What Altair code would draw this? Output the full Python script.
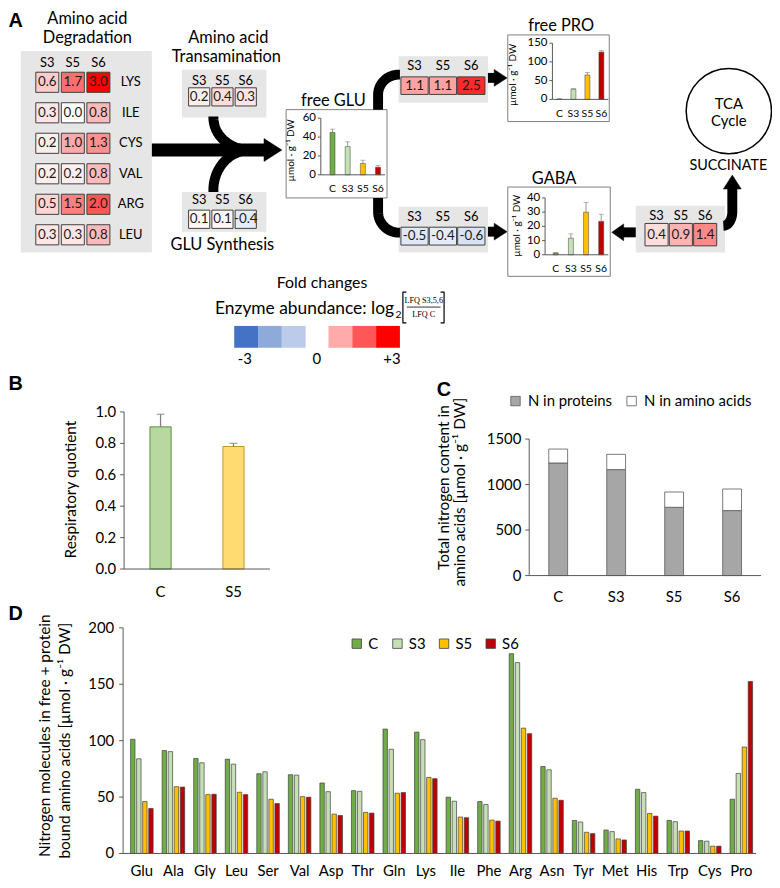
import altair as alt
import numpy as np
import pandas as pd

# ---------------------------------------------------------------- data
FC_COLS = ["S3", "S5", "S6"]
DEG_ROWS = ["LYS", "ILE", "CYS", "VAL", "ARG", "LEU"]
DEG_VALUES = [[0.6, 1.7, 3.0], [0.3, 0.0, 0.8], [0.2, 1.0, 1.3],
              [0.2, 0.2, 0.8], [0.5, 1.5, 2.0], [0.3, 0.3, 0.8]]
TRANSAM_VALUES = [0.2, 0.4, 0.3]
GLUSYN_VALUES = [0.1, 0.1, -0.4]
PRO_FC_VALUES = [1.1, 1.1, 2.5]
GABA_FC_VALUES = [-0.5, -0.4, -0.6]
SUCC_FC_VALUES = [0.4, 0.9, 1.4]
LEGEND_BLUES = ["#4472c4", "#8eaadb", "#bccbea"]
LEGEND_REDS = ["#ffabab", "#ff5757", "#ff0000"]

GROUPS = ["C", "S3", "S5", "S6"]
GROUP_COLORS = ["#70ad47", "#c5e0b4", "#ffc000", "#c00000"]
GLU_MEAN = [45, 30, 12, 8]
GLU_ERR = [3.5, 5, 3.5, 1.8]
GLU_TICKS = [0, 20, 40, 60]
PRO_MEAN = [1, 27, 65, 126]
PRO_ERR = [0.5, 2, 6.5, 4]
PRO_TICKS = [0, 50, 100, 150]
GABA_MEAN = [1.3, 11.7, 30, 23.5]
GABA_ERR = [0.2, 3, 6.7, 5]
GABA_TICKS = [0, 10, 20, 30, 40]

RQ_GROUPS = ["C", "S5"]
RQ_MEAN = [0.905, 0.78]
RQ_ERR = [0.08, 0.02]
RQ_TICKS = [0.0, 0.2, 0.4, 0.6, 0.8, 1.0]
RQ_FILLS = ["#b7d99f", "#ffdb72"]
RQ_EDGES = ["#5f8f3e", "#c49a1c"]

N_PARTS = ["N in proteins", "N in amino acids"]
N_PROTEIN = [1237, 1164, 750, 714]
N_AMINO = [153, 168, 168, 237]
N_TICKS = [0, 500, 1000, 1500]

AA = ["Glu", "Ala", "Gly", "Leu", "Ser", "Val", "Asp", "Thr", "Gln", "Lys",
      "Ile", "Phe", "Arg", "Asn", "Tyr", "Met", "His", "Trp", "Cys", "Pro"]
D_C = [101.2, 91.2, 84.2, 83.6, 70.7, 69.8, 62.5, 55.7, 110.3, 107.6,
       49.9, 46.0, 177.1, 77.1, 29.3, 20.8, 56.9, 29.3, 11.4, 48.1]
D_S3 = [83.9, 90.3, 80.4, 79.2, 72.4, 69.5, 54.8, 55.1, 92.4, 100.9,
        46.3, 43.4, 169.2, 74.2, 27.9, 19.4, 54.0, 28.2, 10.9, 71.0]
D_S5 = [46.0, 59.2, 52.2, 54.3, 48.1, 50.4, 34.9, 36.4, 53.4, 67.4,
        32.3, 29.6, 111.1, 49.0, 18.8, 12.9, 35.5, 19.9, 6.5, 94.4]
D_S6 = [39.9, 58.9, 52.5, 52.2, 44.3, 49.9, 33.7, 35.8, 54.0, 66.3,
        31.7, 28.7, 106.2, 47.2, 17.6, 12.0, 33.1, 19.9, 6.5, 152.5]
D_TICKS = [0, 50, 100, 150, 200]

# ---------------------------------------------------------------- style / layout
FONT = "Lato"
BOLD_FONT = "Liberation Sans"
SERIF = "Liberation Serif"
W, H = 770, 872
OFF = 8
AXC = "#595959"
ERRC = "#808080"
GRAY = "#e6e6e6"
EDGE = "#3f3f3f"
UNIT = "µmol · g⁻¹ DW"


def px(v):
    return v - OFF


py = px

XC = alt.Scale(domain=[OFF, OFF + W], range=[0, W], nice=False, zero=False)
YC = alt.Scale(domain=[OFF, OFF + H], range=[0, H], nice=False, zero=False)


def cx(f):
    return alt.X(f"{f}:Q", scale=XC, axis=None)


def cy(f):
    return alt.Y(f"{f}:Q", scale=YC, axis=None)


def canvas_rects(rows):
    df = pd.DataFrame(rows, columns=["x1", "y1", "x2", "y2", "fill", "stroke", "sw"])
    return alt.Chart(df).mark_rect().encode(
        x=cx("x1"), x2="x2:Q", y=cy("y1"), y2="y2:Q",
        fill=alt.Fill("fill:N", scale=None),
        stroke=alt.Stroke("stroke:N", scale=None),
        strokeWidth=alt.StrokeWidth("sw:Q", scale=None))


def canvas_text(rows, align="center", font=FONT, weight="normal", color="black"):
    df = pd.DataFrame(rows, columns=["t", "x", "y", "size", "angle"])
    return alt.Chart(df).mark_text(align=align, baseline="middle", font=font,
                                   fontWeight=weight, color=color).encode(
        x=cx("x"), y=cy("y"), text="t:N",
        size=alt.Size("size:Q", scale=None), angle=alt.Angle("angle:Q", scale=None))


def canvas_path(points, width, color="black"):
    df = pd.DataFrame({"x": [float(p[0]) for p in points],
                       "y": [float(p[1]) for p in points],
                       "o": list(range(len(points)))})
    return alt.Chart(df).mark_line(color=color, strokeWidth=width, strokeCap="butt",
                                   strokeJoin="round").encode(
        x=cx("x"), y=cy("y"), order=alt.Order("o:Q"))


def arc(xc, yc, rx, ry, t0, t1, n=24):
    ts = np.radians(np.linspace(t0, t1, n))
    return [(xc + rx * np.cos(t), yc + ry * np.sin(t)) for t in ts]


def arrow_head(x, y, length, breadth, angle):
    L = max(length, breadth)
    a, b = length / L, breadth / L
    shape = f"M {-a:.3f} {-b:.3f} L {a:.3f} 0 L {-a:.3f} {b:.3f} Z"
    return alt.Chart(pd.DataFrame({"x": [x], "y": [y]})).mark_point(
        shape=shape, size=L * L, filled=True, fill="black", stroke="black",
        strokeWidth=0.5, opacity=1, angle=angle).encode(x=cx("x"), y=cy("y"))


# ---------------------------------------------------------------- panel A canvas
rects = [
    (21, 48, 153, 251, GRAY, "transparent", 0),
    (183.3, 66.7, 268.3, 115, GRAY, "transparent", 0),
    (183.3, 190, 268.3, 230, GRAY, "transparent", 0),
    (401.7, 53.3, 491.7, 100, GRAY, "transparent", 0),
    (401.7, 205, 491.7, 251, GRAY, "transparent", 0),
    (640.7, 204, 730.7, 251, GRAY, "transparent", 0),
    (288.3, 107, 390, 196, "white", "#7f7f7f", 1),
    (511.7, 31.7, 614, 119, "white", "#7f7f7f", 1),
    (511.7, 185, 615, 275, "white", "#7f7f7f", 1),
]
sw_x = [236, 260, 284]
for i, c in enumerate(LEGEND_BLUES):
    rects.append((sw_x[i], 325, sw_x[i] + 24, 347, c, "transparent", 0))
sw_x = [331, 355, 379]
for i, c in enumerate(LEGEND_REDS):
    rects.append((sw_x[i], 325, sw_x[i] + 24, 347, c, "transparent", 0))

canvas_layers = [canvas_rects(rects)]

# arrows
canvas_layers += [
    canvas_path([(153, 147.7), (268, 147.7)], 13),
    canvas_path([(215, 114)] + arc(252, 115, 37, 32.7, 180, 90), 10),
    canvas_path([(215, 190)] + arc(252, 188, 37, 40.3, 180, 270), 10),
    canvas_path([(381, 107), (381, 92)] + arc(402, 92, 21, 20.3, 180, 270) + [(403, 71.7)], 10),
    canvas_path([(381, 196), (381, 210)] + arc(402, 210, 21, 21, 180, 90) + [(403, 231)], 10),
    canvas_path([(491.7, 75), (500, 75)], 10),
    canvas_path([(491.7, 230), (500, 230)], 10),
    canvas_path([(627, 230.7), (640.7, 230.7)], 10),
    canvas_path(arc(729, 210, 9, 14, 90, 0) + [(738, 186)], 10),
    arrow_head(275, 147.7, 18, 23, 0),
    arrow_head(504.5, 75, 13, 17, 0),
    arrow_head(504.5, 230, 13, 17, 0),
    arrow_head(622.5, 230.7, 12, 17, 180),
    arrow_head(738, 180, 14, 18, 270),
]
# fraction brackets + line
canvas_layers += [
    canvas_path([(409.5, 291), (406, 291), (406, 322), (409.5, 322)], 1.2),
    canvas_path([(444, 291), (447.5, 291), (447.5, 322), (444, 322)], 1.2),
    canvas_path([(410, 306), (444, 306)], 0.8),
]
# TCA circle
canvas_layers.append(
    alt.Chart(pd.DataFrame({"x": [734.5], "y": [108.5]})).mark_point(
        shape="circle", size=86 * 86, filled=False, stroke="black",
        strokeWidth=1.5, opacity=1).encode(x=cx("x"), y=cy("y")))

canvas_layers += [
    canvas_text([("A", 8.5, 18, 20, 0), ("B", 8.5, 384, 20, 0),
                 ("C", 440, 390, 20, 0), ("D", 8.5, 615.5, 20, 0)],
                align="left", font=BOLD_FONT, weight="bold"),
    canvas_text([
        ("Amino acid", 88, 16, 16.5, 0), ("Degradation", 88, 35, 16.5, 0),
        ("Amino acid", 230, 35, 16.5, 0), ("Transamination", 228, 54.3, 16.5, 0),
        ("GLU Synthesis", 224, 243.3, 16.5, 0),
        ("free GLU", 336, 98.3, 16.5, 0),
        ("free PRO", 565.5, 22.7, 16.5, 0),
        ("GABA", 558.3, 177.3, 16.5, 0),
        ("TCA", 734.5, 101, 15, 0), ("Cycle", 734.5, 119, 15, 0),
        ("SUCCINATE", 734, 164.3, 14.5, 0),
        ("Fold changes", 324.5, 281.7, 16, 0),
        ("-3", 246.7, 358.3, 15, 0), ("0", 319.3, 358.3, 15, 0), ("+3", 395, 358.3, 15, 0),
        (UNIT, 293.5, 148, 10, 270), (UNIT, 516.7, 72, 10, 270), (UNIT, 521.5, 224, 10, 270),
        ("Respiratory quotient", 71.7, 490, 15.5, 270),
        ("Total nitrogen content in", 447.7, 488, 15.5, 270),
        ("amino acids [" + UNIT + "]", 463.3, 492.5, 15.5, 270),
        ("Nitrogen molecules in free + protein", 45, 738, 15.5, 270),
        ("bound  amino acids [" + UNIT + "]", 65, 743, 15.5, 270),
    ]),
    canvas_text([("Enzyme abundance: log", 397, 308, 17.5, 0)], align="right"),
    canvas_text([("2", 398.5, 314, 10.5, 0)], align="left"),
    canvas_text([("LFQ S3,5,6", 427, 299.5, 8.3, 0), ("LFQ C", 427, 314, 8.3, 0)],
                font=SERIF),
]
canvas = alt.layer(*canvas_layers)

# ---------------------------------------------------------------- heat blocks
HEAT = alt.Scale(domain=[-3, 0, 3], range=["#4472c4", "#ffffff", "#ff0000"], interpolate="rgb")


def heat_block(rows, values, xr, yr, pin_x, pin_y, header_y, row_label_x=None):
    recs = [{"row": r, "col": c, "v": values[i][j], "lab": f"{values[i][j]:.1f}"}
            for i, r in enumerate(rows) for j, c in enumerate(FC_COLS)]
    df = pd.DataFrame(recs)
    xs = alt.Scale(domain=FC_COLS, range=[px(xr[0]), px(xr[1])], paddingInner=pin_x, paddingOuter=0)
    ys = alt.Scale(domain=rows, range=[py(yr[0]), py(yr[1])], paddingInner=pin_y, paddingOuter=0)
    X = alt.X("col:N", scale=xs, axis=None)
    Y = alt.Y("row:N", scale=ys, axis=None)
    layers = [
        alt.Chart(df).mark_rect(stroke=EDGE, strokeWidth=1).encode(
            x=X, y=Y, color=alt.Color("v:Q", scale=HEAT, legend=None)),
        alt.Chart(df).mark_text(font=FONT, fontSize=13.5, color="#1a1a1a").encode(
            x=X, y=Y, text="lab:N"),
        alt.Chart(pd.DataFrame({"col": FC_COLS})).mark_text(font=FONT, fontSize=13, color="black").encode(
            x=X, y=alt.value(py(header_y)), text="col:N"),
    ]
    if row_label_x is not None:
        layers.append(alt.Chart(pd.DataFrame({"row": rows})).mark_text(
            font=FONT, fontSize=13, color="black").encode(
            x=alt.value(px(row_label_x)), y=Y, text="row:N"))
    return alt.layer(*layers)


heat_groups = [
    heat_block(DEG_ROWS, DEG_VALUES, (36, 110.7), (69.3, 243.3), 0.1, 0.34, 60, 131.7),
    heat_block(["r"], [TRANSAM_VALUES], (190, 258.3), (85, 103.3), 0.09, 0, 78.3),
    heat_block(["r"], [GLUSYN_VALUES], (190, 258.3), (208.3, 226.7), 0.09, 0, 198.3),
    heat_block(["r"], [PRO_FC_VALUES], (404, 488.7), (74, 91.7), 0.04, 0, 62.7),
    heat_block(["r"], [GABA_FC_VALUES], (404, 488.7), (225.5, 243.5), 0.04, 0, 215.5),
    heat_block(["r"], [SUCC_FC_VALUES], (650, 722.3), (221.7, 244.3), 0.05, 0, 214.5),
]


# ---------------------------------------------------------------- axis helpers
def y_axis(ys, ticks, labels, ax_x, ymax, fs, gap, tick_len):
    tdf = pd.DataFrame({"t": ticks, "lab": labels})
    Y = alt.Y("t:Q", scale=ys, axis=None)
    return [
        alt.Chart(pd.DataFrame({"lo": [0], "hi": [ymax]})).mark_rule(color=AXC, strokeWidth=1).encode(
            x=alt.value(px(ax_x)), y=alt.Y("lo:Q", scale=ys, axis=None), y2="hi:Q"),
        alt.Chart(tdf).mark_rule(color=AXC, strokeWidth=1).encode(
            x=alt.value(px(ax_x - tick_len)), x2=alt.value(px(ax_x)), y=Y),
        alt.Chart(tdf).mark_text(align="right", baseline="middle", font=FONT, fontSize=fs,
                                 color="black").encode(
            x=alt.value(px(ax_x - gap)), y=Y, text="lab:N"),
    ]


def x_axis_line(ys, x0, x1):
    return alt.Chart(pd.DataFrame({"lo": [0]})).mark_rule(color=AXC, strokeWidth=1).encode(
        x=alt.value(px(x0)), x2=alt.value(px(x1)), y=alt.Y("lo:Q", scale=ys, axis=None))


def simple_bars(cats, means, errs, fills, edges, band, pin, ybase, ytop, ymax,
                ticks, tick_labels, ax_x, ax_end, lab_y, fs_tick, fs_cat,
                tick_len, gap, cap, err_w, edge_w):
    df = pd.DataFrame({"g": cats, "v": means, "hi": [m + e for m, e in zip(means, errs)],
                       "fill": fills, "edge": edges})
    xs = alt.Scale(domain=cats, range=[px(band[0]), px(band[1])], paddingInner=pin, paddingOuter=pin / 2)
    ys = alt.Scale(domain=[0, ymax], range=[py(ybase), py(ytop)], nice=False, zero=True)
    X = alt.X("g:N", scale=xs, axis=None)
    layers = [
        alt.Chart(df).mark_bar(strokeWidth=edge_w).encode(
            x=X, y=alt.Y("v:Q", scale=ys, axis=None),
            fill=alt.Fill("fill:N", scale=None), stroke=alt.Stroke("edge:N", scale=None)),
        alt.Chart(df).mark_rule(color=ERRC, strokeWidth=err_w).encode(
            x=X, y=alt.Y("v:Q", scale=ys, axis=None), y2="hi:Q"),
        alt.Chart(df).mark_tick(color=ERRC, thickness=err_w, size=cap).encode(
            x=X, y=alt.Y("hi:Q", scale=ys, axis=None)),
        x_axis_line(ys, ax_x, ax_end),
        alt.Chart(df).mark_text(font=FONT, fontSize=fs_cat, color="black", baseline="middle").encode(
            x=X, y=alt.value(py(lab_y)), text="g:N"),
    ]
    layers += y_axis(ys, ticks, tick_labels, ax_x, ymax, fs_tick, gap, tick_len)
    return alt.layer(*layers)


edges4 = [EDGE] * 4
glu = simple_bars(GROUPS, GLU_MEAN, GLU_ERR, GROUP_COLORS, edges4, (327.4, 388.6), 0.67,
                  172.7, 115.7, 60, GLU_TICKS, [str(t) for t in GLU_TICKS],
                  323.3, 388, 187, 11.5, 10.5, 3, 5, 5, 0.8, 0.5)
pro = simple_bars(GROUPS, PRO_MEAN, PRO_ERR, GROUP_COLORS, edges4, (556.7, 613.1), 0.645,
                  96.7, 40, 150, PRO_TICKS, [str(t) for t in PRO_TICKS],
                  556.7, 613, 111, 11.5, 10.5, 3, 5, 5, 0.8, 0.5)
gaba = simple_bars(GROUPS, GABA_MEAN, GABA_ERR, GROUP_COLORS, edges4, (552.4, 613.5), 0.67,
                   253.3, 196, 40, GABA_TICKS, [str(t) for t in GABA_TICKS],
                   549.3, 613, 267.3, 11.5, 10.5, 3, 5, 5, 0.8, 0.5)

# ---------------------------------------------------------------- panel B
panel_b = simple_bars(RQ_GROUPS, RQ_MEAN, RQ_ERR, RQ_FILLS, RQ_EDGES, (125, 272), 0.71,
                      570, 411.7, 1.0, RQ_TICKS, [f"{t:.1f}" for t in RQ_TICKS],
                      125, 272, 593, 15, 15, 4, 8, 8, 1.3, 1)

# ---------------------------------------------------------------- panel C
c_rows = []
for i, g in enumerate(GROUPS):
    c_rows.append({"g": g, "part": N_PARTS[0], "n": N_PROTEIN[i], "ord": 0})
    c_rows.append({"g": g, "part": N_PARTS[1], "n": N_AMINO[i], "ord": 1})
c_df = pd.DataFrame(c_rows)
c_xs = alt.Scale(domain=GROUPS, range=[px(533.3), px(767)], paddingInner=0.675, paddingOuter=0.3375)
c_ys = alt.Scale(domain=[0, 1500], range=[py(576.6), py(439)], nice=False, zero=True)
c_X = alt.X("g:N", scale=c_xs, axis=None)
panel_c = alt.layer(
    alt.Chart(c_df).mark_bar(stroke="#595959", strokeWidth=0.8).encode(
        x=c_X,
        y=alt.Y("n:Q", stack="zero", scale=c_ys, axis=None),
        color=alt.Color("part:N", scale=alt.Scale(domain=N_PARTS, range=["#a6a6a6", "#ffffff"]),
                        legend=alt.Legend(orient="none", legendX=px(512), legendY=py(393),
                                          direction="horizontal", title=None, symbolType="square",
                                          symbolSize=90, symbolStrokeColor="#595959",
                                          symbolStrokeWidth=0.8, symbolOpacity=1,
                                          labelFont=FONT, labelFontSize=15, labelColor="black",
                                          columnPadding=12, labelOffset=5)),
        order=alt.Order("ord:Q")),
    x_axis_line(c_ys, 533.3, 767),
    alt.Chart(pd.DataFrame({"g": GROUPS})).mark_text(font=FONT, fontSize=15, color="black").encode(
        x=c_X, y=alt.value(py(598)), text="g:N"),
    *y_axis(c_ys, N_TICKS, [str(t) for t in N_TICKS], 533.3, 1500, 15, 8, 4),
)

# ---------------------------------------------------------------- panel D
d_rows = []
for series, g in zip([D_C, D_S3, D_S5, D_S6], GROUPS):
    for a, v in zip(AA, series):
        d_rows.append({"aa": a, "grp": g, "v": v})
d_df = pd.DataFrame(d_rows)
d_xs = alt.Scale(domain=AA, range=[px(127), px(763)], paddingInner=0.286, paddingOuter=0.143)
d_ys = alt.Scale(domain=[0, 200], range=[py(856.7), py(629.3)], nice=False, zero=True)
d_X = alt.X("aa:N", scale=d_xs, axis=None)
panel_d = alt.layer(
    alt.Chart(d_df).mark_bar(stroke=EDGE, strokeWidth=0.7).encode(
        x=d_X,
        xOffset=alt.XOffset("grp:N", scale=alt.Scale(domain=GROUPS, paddingInner=0.27, paddingOuter=0)),
        y=alt.Y("v:Q", scale=d_ys, axis=None),
        color=alt.Color("grp:N", scale=alt.Scale(domain=GROUPS, range=GROUP_COLORS),
                        legend=alt.Legend(orient="none", legendX=px(352), legendY=py(637.5),
                                          direction="horizontal", title=None, symbolType="square",
                                          symbolSize=90, symbolStrokeColor=EDGE,
                                          symbolStrokeWidth=0.8, symbolOpacity=1,
                                          labelFont=FONT, labelFontSize=15, labelColor="black",
                                          columnPadding=11, labelOffset=4))),
    x_axis_line(d_ys, 124, 762),
    alt.Chart(pd.DataFrame({"aa": AA})).mark_text(font=FONT, fontSize=15, color="black").encode(
        x=d_X, y=alt.value(py(874)), text="aa:N"),
    *y_axis(d_ys, D_TICKS, [str(t) for t in D_TICKS], 124, 200, 15, 9, 4),
)

# ---------------------------------------------------------------- assemble
chart = alt.layer(canvas, *heat_groups, glu, pro, gaba, panel_b, panel_c, panel_d).resolve_scale(
    x="independent", y="independent", color="independent"
).properties(
    width=W, height=H, padding=0, autosize=alt.AutoSizeParams(type="none")
).configure_view(strokeWidth=0)

chart.save("out.html", embed_options={"renderer": "svg", "actions": False})
